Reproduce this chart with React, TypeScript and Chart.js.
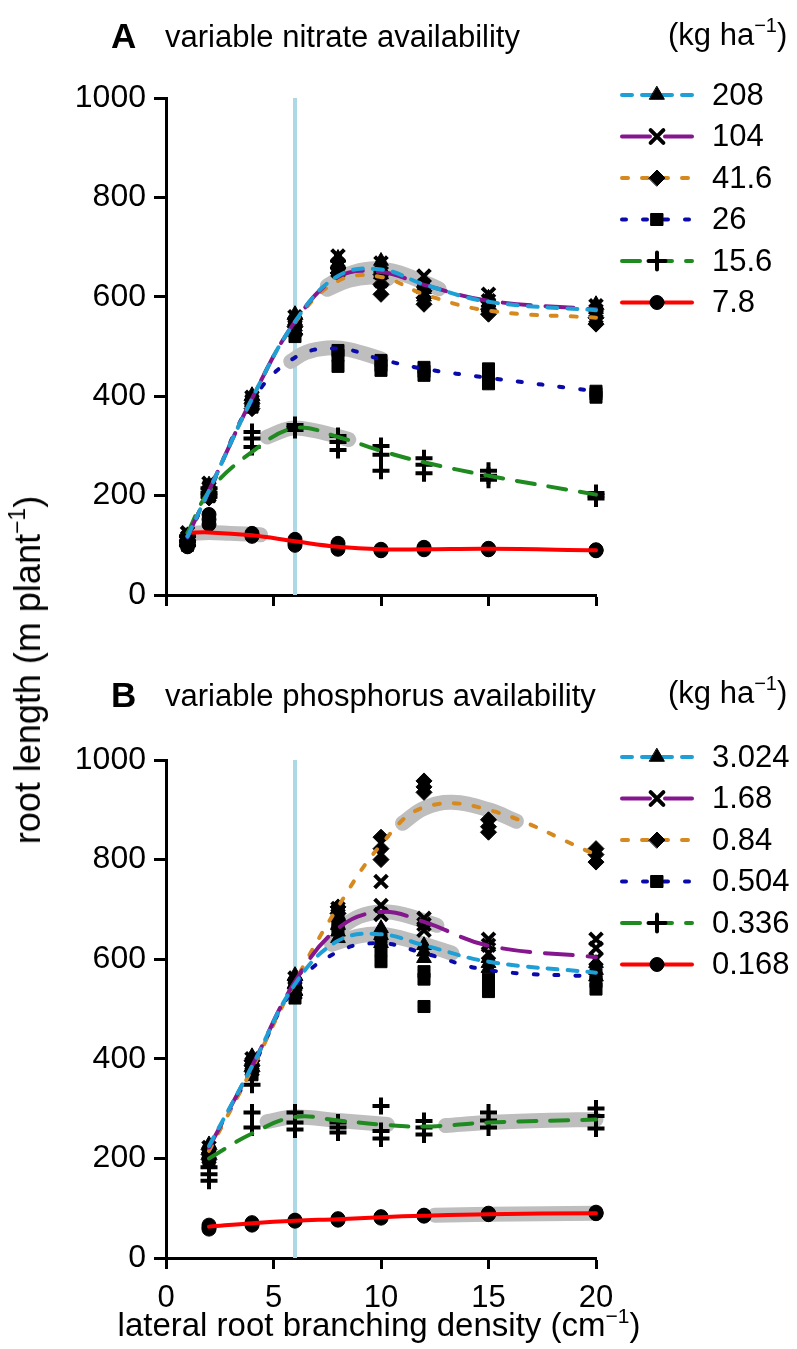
import React, { useEffect, useRef } from 'react';
import { Chart, registerables, PointElement } from 'chart.js';

Chart.register(...registerables);

const FONT = "'Liberation Sans', Arial, Helvetica, sans-serif";

// ---------- shared axes ----------
const xTickStep = 5;
const yTickStep = 200;
const xMin = 0;
const xMax = 20;
const yMin = 0;
const yMax = 1000;
const markerX = 6; // vertical reference line

// ---------- Panel A : nitrate ----------
const xA = [1, 2, 4, 6, 8, 10, 12, 15, 20];
const legendA = ['208', '104', '41.6', '26', '15.6', '7.8'];

const fitA208 = [118, 210, 395, 550, 642, 655, 625, 590, 573];
const fitA104 = [118, 210, 395, 550, 640, 650, 624, 592, 575];
const fitA416 = [118, 210, 395, 548, 632, 640, 605, 572, 558];
const fitA26 = [115, 207, 390, 478, 496, 474, 455, 437, 410];
const fitA156 = [125, 208, 288, 336, 318, 290, 267, 240, 202];
const fitA78 = [125, 126, 120, 108, 97, 92, 92, 93, 90];

const obsA208 = [[120, 112, 105], [222, 212, 205], [402, 395, 388], [565, 552, 540], [678, 668, 655], [672, 658, 645], [628, 615, 600], [598, 588, 578], [585, 575, 565]];
const obsA104 = [[125, 115, 108], [225, 215, 200], [398, 390, 382], [560, 548, 532], [682, 665, 652], [668, 648, 632], [642, 622, 608], [605, 592, 582], [582, 572, 560]];
const obsA416 = [[118, 110, 100], [215, 205, 195], [392, 385, 375], [555, 540, 525], [672, 658, 648], [645, 625, 605], [612, 598, 585], [590, 575, 565], [575, 558, 545]];
const obsA26 = [[115, 108, 100], [218, 208, 198], [395, 385, 378], [550, 535, 520], [492, 482, 460], [472, 462, 452], [458, 450, 442], [455, 440, 425], [410, 405, 398]];
const obsA156 = [[118, 108, 100], [215, 205, 198], [328, 315, 298], [342, 336, 332], [320, 308, 292], [300, 282, 250], [275, 262, 245], [250, 240, 232], [205, 200, 194]];
const obsA78 = [[118, 108, 97], [162, 152, 142], [124, 120, 118], [112, 105, 100], [104, 97, 92], [92, 90, 89], [96, 93, 91], [94, 92, 91], [91, 90, 89]];

const bandA208X = [7.5, 8.5, 9.5, 10.5, 11.5, 12.7];
const bandA208Y = [622, 646, 656, 652, 638, 616];
const bandA416X = [7.5, 8.5, 9.5, 10.3];
const bandA416Y = [615, 633, 640, 636];
const bandA26X = [5.8, 6.5, 7.5, 8.5, 10];
const bandA26Y = [470, 488, 497, 494, 475];
const bandA156X = [4.7, 5.5, 6, 7, 8.5];
const bandA156Y = [318, 332, 336, 330, 313];
const bandA78X = [1.2, 2, 3, 4.4];
const bandA78Y = [124, 126, 124, 121];

// ---------- Panel B : phosphorus ----------
const xB = [2, 4, 6, 8, 10, 12, 15, 20];
const legendB = ['3.024', '1.68', '0.84', '0.504', '0.336', '0.168'];

const fitB3024 = [225, 385, 550, 637, 650, 628, 595, 573];
const fitB168 = [222, 385, 555, 662, 695, 675, 627, 604];
const fitB084 = [215, 380, 555, 705, 830, 905, 900, 810];
const fitB0504 = [218, 380, 545, 615, 632, 612, 578, 565];
const fitB0336 = [200, 250, 283, 276, 268, 264, 272, 278];
const fitB0168 = [63, 70, 75, 78, 82, 85, 88, 90];

const obsB3024 = [[228, 218, 208], [405, 395, 385], [568, 552, 538], [668, 655, 642], [662, 648, 632], [628, 615, 602], [602, 592, 582], [592, 578, 565]];
const obsB168 = [[222, 212, 202], [400, 390, 378], [562, 548, 532], [702, 688, 672], [756, 708, 690], [682, 670, 658], [640, 628, 612], [640, 622, 600]];
const obsB084 = [[218, 208, 198], [396, 386, 375], [558, 542, 528], [705, 692, 678], [845, 822, 800], [958, 946, 935], [880, 866, 855], [822, 810, 795]];
const obsB0504 = [[215, 205, 195], [392, 380, 368], [552, 538, 522], [690, 672, 660], [640, 618, 595], [575, 560, 505], [560, 548, 535], [570, 555, 540]];
const obsB0336 = [[182, 168, 155], [348, 292, 262], [292, 272, 258], [272, 262, 252], [305, 255, 240], [275, 262, 248], [292, 276, 262], [300, 285, 260]];
const obsB0168 = [[66, 61, 58], [71, 68, 66], [76, 75, 74], [79, 77, 76], [83, 82, 80], [86, 85, 84], [90, 88, 87], [92, 90, 89]];

const bandB3024X = [7.7, 9, 10, 11.5, 13.3];
const bandB3024Y = [630, 647, 650, 636, 612];
const bandB168X = [8, 9, 10, 11, 12.6];
const bandB168Y = [660, 686, 695, 690, 668];
const bandB084X = [11, 12, 13.3, 15, 16.3];
const bandB084Y = [873, 903, 915, 900, 877];
const bandB0336aX = [4.7, 6, 8, 10.3];
const bandB0336aY = [274, 283, 276, 268];
const bandB0336bX = [13, 15, 17.5, 20];
const bandB0336bY = [266, 272, 276, 278];
const bandB0168X = [12.5, 15, 17.5, 20];
const bandB0168Y = [86, 88, 89, 90];

// ---------- styles ----------
const STYLES = [
  { color: '#1E9FD6', dash: [10, 10], pt: 'triangle', r: 8.5, bw: 1 },
  { color: '#85168E', dash: [28, 15], pt: 'crossRot', r: 9, bw: 4 },
  { color: '#D6891E', dash: [6, 14], pt: 'rectRot', r: 8, bw: 1 },
  { color: '#0A0AAA', dash: [4, 17], pt: 'rect', r: 8.5, bw: 1 },
  { color: '#1F8A1F', dash: [18, 14], pt: 'cross', r: 8.5, bw: 4 },
  { color: '#FF0000', dash: [], pt: 'circle', r: 7, bw: 1 },
];
const LINE_W = 4;
const BAND_COLOR = '#BEBEBE';
const VLINE_COLOR = '#ADD8E6';

type PanelSpec = {
  xs: number[];
  fits: number[][];
  obs: number[][][];
  bands: [number[], number[]][];
  legend: string[];
  showXLabels: boolean;
  height: number;
  padTop: number;
  padBottom: number;
  xAxisH: number;
};

function legendPlugin(labels: string[], pointStart: number) {
  return {
    id: 'rootLegend',
    afterDraw(chart: any) {
      const { ctx, chartArea } = chart;
      ctx.save();
      labels.forEach((label, i) => {
        const y = chartArea.top - 3 + i * 41.5;
        const st = STYLES[i];
        ctx.strokeStyle = st.color;
        ctx.lineWidth = LINE_W;
        ctx.lineCap = 'round';
        ctx.setLineDash(st.dash);
        ctx.beginPath();
        ctx.moveTo(622, y);
        ctx.lineTo(692, y);
        ctx.stroke();
        ctx.setLineDash([]);
        const meta = chart.getDatasetMeta(pointStart + i);
        const el = meta.data[0] as any;
        const p: any = new (PointElement as any)({ x: 657, y, options: el.options });
        p.draw(ctx, { left: 0, top: 0, right: chart.width, bottom: chart.height });
        ctx.fillStyle = '#000';
        ctx.font = `31px ${FONT}`;
        ctx.textAlign = 'left';
        ctx.textBaseline = 'middle';
        ctx.fillText(label, 712, y + 1);
      });
      ctx.restore();
    },
  };
}

function buildConfig(spec: PanelSpec) {
  const datasets: any[] = [];
  spec.fits.forEach((f, i) => {
    datasets.push({
      type: 'line',
      data: spec.xs.map((x, j) => ({ x, y: f[j] })),
      borderColor: STYLES[i].color,
      borderWidth: LINE_W,
      borderDash: STYLES[i].dash,
      borderCapStyle: 'round',
      pointRadius: 0,
      tension: 0.4,
      fill: false,
      order: 0,
      clip: false,
    });
  });
  const pointStart = datasets.length;
  spec.obs.forEach((o, i) => {
    const pts: { x: number; y: number }[] = [];
    o.forEach((reps, j) => reps.forEach((v) => pts.push({ x: spec.xs[j], y: v })));
    datasets.push({
      type: 'line',
      showLine: false,
      data: pts,
      pointStyle: STYLES[i].pt,
      pointRadius: STYLES[i].r,
      pointBackgroundColor: '#000',
      pointBorderColor: '#000',
      pointBorderWidth: STYLES[i].bw,
      order: 1,
      clip: false,
    });
  });
  spec.bands.forEach(([bx, by]) => {
    datasets.push({
      type: 'line',
      data: bx.map((x, j) => ({ x, y: by[j] })),
      borderColor: BAND_COLOR,
      borderWidth: 15,
      borderCapStyle: 'round',
      borderJoinStyle: 'round',
      pointRadius: 0,
      tension: 0.4,
      order: 2,
      clip: false,
    });
  });
  datasets.push({
    type: 'line',
    data: [{ x: markerX, y: yMin }, { x: markerX, y: yMax }],
    borderColor: VLINE_COLOR,
    borderWidth: 4,
    pointRadius: 0,
    order: 3,
    clip: false,
  });

  return {
    type: 'line',
    data: { datasets },
    options: {
      animation: false,
      responsive: false,
      devicePixelRatio: 1,
      events: [],
      layout: { padding: { left: 0, right: 201, top: spec.padTop, bottom: spec.padBottom } },
      plugins: { legend: { display: false }, tooltip: { enabled: false }, title: { display: false } },
      scales: {
        x: {
          type: 'linear',
          min: xMin,
          max: xMax,
          afterFit: (s: any) => { s.height = spec.xAxisH; },
          ticks: {
            stepSize: xTickStep,
            display: spec.showXLabels,
            color: '#000',
            font: { family: FONT, size: 31 },
            padding: 11,
            maxRotation: 0,
            callback: (v: any) => String(v),
          },
          grid: { drawOnChartArea: false, drawTicks: true, tickLength: 11, tickWidth: 3, color: '#000' },
          border: { display: true, color: '#000', width: 3 },
        },
        y: {
          type: 'linear',
          min: yMin,
          max: yMax,
          afterFit: (s: any) => { s.width = 166; },
          ticks: {
            stepSize: yTickStep,
            color: '#000',
            font: { family: FONT, size: 32 },
            padding: 8,
            callback: (v: any) => String(v),
          },
          grid: { drawOnChartArea: false, drawTicks: true, tickLength: 12, tickWidth: 3, color: '#000' },
          border: { display: true, color: '#000', width: 3 },
        },
      },
    },
    plugins: [legendPlugin(spec.legend, pointStart)],
  };
}

const specA: PanelSpec = {
  xs: xA,
  fits: [fitA208, fitA104, fitA416, fitA26, fitA156, fitA78],
  obs: [obsA208, obsA104, obsA416, obsA26, obsA156, obsA78],
  bands: [[bandA208X, bandA208Y], [bandA416X, bandA416Y], [bandA26X, bandA26Y], [bandA156X, bandA156Y], [bandA78X, bandA78Y]],
  legend: legendA,
  showXLabels: false,
  height: 640,
  padTop: 98,
  padBottom: 30,
  xAxisH: 15,
};

const specB: PanelSpec = {
  xs: xB,
  fits: [fitB3024, fitB168, fitB084, fitB0504, fitB0336, fitB0168],
  obs: [obsB3024, obsB168, obsB084, obsB0504, obsB0336, obsB0168],
  bands: [[bandB3024X, bandB3024Y], [bandB168X, bandB168Y], [bandB084X, bandB084Y], [bandB0336aX, bandB0336aY], [bandB0336bX, bandB0336bY], [bandB0168X, bandB0168Y]],
  legend: legendB,
  showXLabels: true,
  height: 709,
  padTop: 120,
  padBottom: 31,
  xAxisH: 60,
};

function Panel({ spec, top }: { spec: PanelSpec; top: number }) {
  const ref = useRef<HTMLCanvasElement | null>(null);
  useEffect(() => {
    if (!ref.current) return;
    const chart = new Chart(ref.current, buildConfig(spec) as any);
    return () => chart.destroy();
  }, [spec]);
  return (
    <canvas
      ref={ref}
      width={797}
      height={spec.height}
      style={{ position: 'absolute', left: 0, top, width: 797, height: spec.height }}
    />
  );
}

const txt: React.CSSProperties = {
  position: 'absolute',
  fontFamily: FONT,
  fontSize: 31,
  lineHeight: '36px',
  whiteSpace: 'nowrap',
  color: '#000',
};
const bold: React.CSSProperties = { fontWeight: 'bold', fontSize: 35 };
const sup: React.CSSProperties = { fontSize: 20, verticalAlign: 0, position: 'relative', top: -13 };

export default function App() {
  return (
    <div style={{ position: 'absolute', left: 0, top: 0, width: 797, height: 1349, background: '#fff', overflow: 'hidden' }}>
      <Panel spec={specA} top={0} />
      <Panel spec={specB} top={640} />

      <div style={{ ...txt, ...bold, left: 111, top: 18 }}>A</div>
      <div style={{ ...txt, left: 165, top: 19 }}>variable nitrate availability</div>
      <div style={{ ...txt, left: 668, top: 17 }}>(kg ha<span style={sup}>−1</span>)</div>

      <div style={{ ...txt, ...bold, left: 111, top: 677 }}>B</div>
      <div style={{ ...txt, left: 165, top: 678 }}>variable phosphorus availability</div>
      <div style={{ ...txt, left: 668, top: 675 }}>(kg ha<span style={sup}>−1</span>)</div>

      <div
        style={{
          ...txt,
          fontSize: 36,
          left: 30,
          top: 670,
          transform: 'translate(-50%, -50%) rotate(-90deg)',
        }}
      >
        root length (m plant<span style={{ ...sup, fontSize: 23, top: -15 }}>−1</span>)
      </div>
      <div style={{ ...txt, fontSize: 33, left: 379, top: 1327, transform: 'translate(-50%, -50%)' }}>
        lateral root branching density (cm<span style={{ ...sup, fontSize: 21 }}>−1</span>)
      </div>
    </div>
  );
}
